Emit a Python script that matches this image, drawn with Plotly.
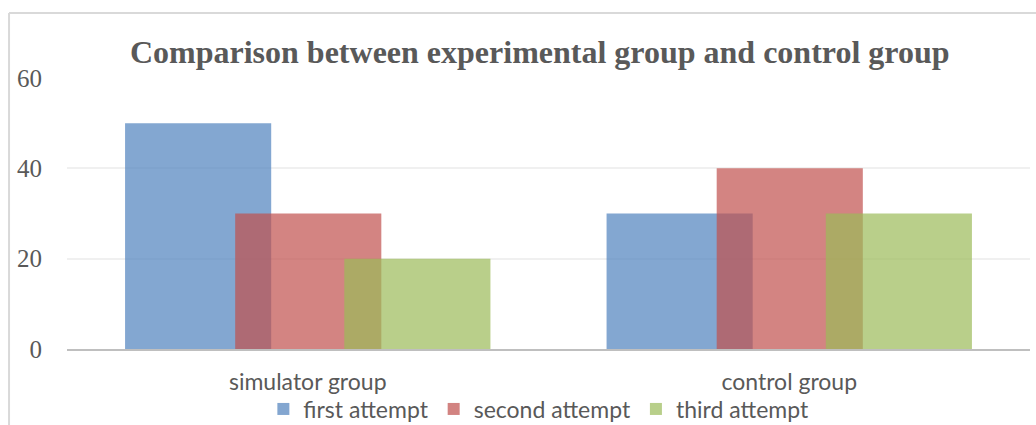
import plotly.graph_objects as go

categories = ["simulator group", "control group"]
series_names = ["first attempt", "second attempt", "third attempt"]
first_attempt = [50, 30]
second_attempt = [30, 40]
third_attempt = [20, 30]
y_ticks = [0, 20, 40, 60]

values = [first_attempt, second_attempt, third_attempt]
colors = ["#4F81BD", "#C0504D", "#9BBB59"]
offsets = [-0.3794, -0.1507, 0.0759]
bar_w = 0.3035

fig = go.Figure()
for name, vals, col, off in zip(series_names, values, colors, offsets):
    fig.add_trace(go.Bar(
        x=list(range(len(categories))), y=vals, name=name,
        marker=dict(color=col, line=dict(width=0)), opacity=0.7,
        width=bar_w, offset=off,
    ))

border = "#D9D9D9"
fig.update_layout(
    width=1036, height=425,
    margin=dict(l=67, r=6, t=78, b=76, autoexpand=False),
    paper_bgcolor="white", plot_bgcolor="white",
    barmode="overlay",
    title=dict(text="<b>Comparison between experimental group and control group</b>",
               x=0.521, xanchor="center", y=1 - 52 / 425, yanchor="middle",
               font=dict(family="Liberation Serif", size=32, color="#595959")),
    xaxis=dict(range=[-0.5, 1.5], tickvals=[0, 1], ticktext=categories,
               showgrid=False, zeroline=False, showline=True, linecolor="#BFBFBF",
               linewidth=2, ticks="", ticklabelstandoff=11, automargin=False,
               tickfont=dict(family="Lato", size=23, color="#595959")),
    yaxis=dict(range=[0, 60], tickvals=y_ticks, showgrid=True, gridcolor="#F0F0F0",
               gridwidth=1.5, zeroline=False, showline=False, ticks="",
               ticklabelstandoff=24, automargin=False,
               tickfont=dict(family="Liberation Serif", size=25, color="#595959")),
    legend=dict(orientation="h", x=0.49, xanchor="center",
                yref="container", y=1 - 409 / 425, yanchor="middle",
                font=dict(family="Lato", size=23, color="#595959"),
                bgcolor="rgba(0,0,0,0)", itemwidth=30, tracegroupgap=0),
    showlegend=True,
    shapes=[
        dict(type="line", xref="paper", yref="paper", x0=-0.0602, x1=1.2,
             y0=1.2399, y1=1.2399, line=dict(color=border, width=2)),
        dict(type="line", xref="paper", yref="paper", x0=-0.0602, x1=-0.0602,
             y0=-0.35, y1=1.2399, line=dict(color=border, width=2)),
    ],
)

fig.write_html("out.html")
